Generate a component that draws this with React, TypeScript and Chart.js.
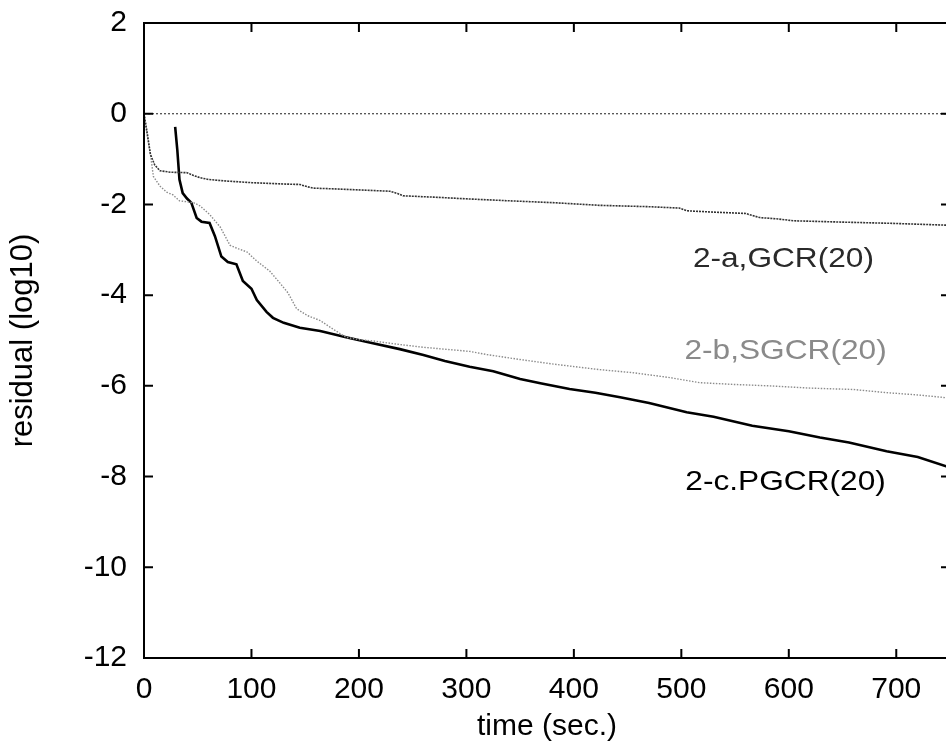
import React, { useEffect, useRef } from "react";
import { Chart, registerables } from "chart.js";

Chart.register(...registerables);

// ---- data (time in sec., residual in log10) ----
const gcrTime = [0, 3, 6, 10, 15, 25, 40, 46, 52, 60, 74, 100, 130, 145, 152, 157, 180, 210, 229, 236, 241, 270, 303, 340, 380, 424, 470, 498, 505, 530, 560, 567, 573, 590, 604, 650, 700, 750];
const gcrResidual = [0, -0.45, -0.9, -1.13, -1.26, -1.29, -1.3, -1.36, -1.41, -1.45, -1.48, -1.52, -1.55, -1.56, -1.61, -1.64, -1.66, -1.69, -1.71, -1.76, -1.81, -1.84, -1.88, -1.92, -1.96, -2.02, -2.05, -2.08, -2.14, -2.17, -2.2, -2.25, -2.29, -2.32, -2.36, -2.39, -2.42, -2.46];

const sgcrTime = [0, 3, 5.6, 8.7, 15, 21, 27, 33, 46, 52, 61, 71, 80, 88, 96, 105, 117, 126, 134, 142, 152, 164, 176, 188, 200, 213, 235, 260, 303, 319, 350, 381, 423, 455, 490, 517, 550, 582, 620, 660, 691, 720, 750];
const sgcrResidual = [0, -0.4, -0.82, -1.38, -1.6, -1.73, -1.79, -1.92, -1.96, -2.03, -2.22, -2.5, -2.9, -2.98, -3.05, -3.25, -3.47, -3.72, -3.95, -4.3, -4.45, -4.56, -4.75, -4.93, -4.98, -5.01, -5.08, -5.15, -5.24, -5.31, -5.42, -5.52, -5.64, -5.71, -5.82, -5.93, -5.97, -6.0, -6.05, -6.08, -6.15, -6.2, -6.27];

const pgcrTime = [29, 31, 33, 36, 40, 44, 49, 53.5, 61, 66, 72, 78, 86, 92, 100, 105, 114, 120, 130, 145, 164, 188, 213, 238, 260, 280, 303, 325, 350, 370, 396, 420, 443, 470, 505, 530, 566, 600, 629, 656, 691, 720, 750];
const pgcrResidual = [-0.29, -0.8, -1.45, -1.75, -1.87, -1.96, -2.3, -2.38, -2.41, -2.7, -3.15, -3.27, -3.32, -3.69, -3.86, -4.11, -4.37, -4.5, -4.61, -4.72, -4.79, -4.93, -5.06, -5.19, -5.32, -5.45, -5.58, -5.68, -5.85, -5.95, -6.07, -6.15, -6.25, -6.38, -6.58, -6.68, -6.88, -7.0, -7.14, -7.25, -7.44, -7.57, -7.8];

const zeroTime = [0, 750];
const zeroResidual = [0, 0];

const xTicks = [0, 100, 200, 300, 400, 500, 600, 700];
const yTicks = [2, 0, -2, -4, -6, -8, -10, -12];

const curveLabels = ["2-a,GCR(20)", "2-b,SGCR(20)", "2-c.PGCR(20)"];
const labelTime = [595, 597, 597];
const labelResidual = [-3.2, -5.23, -8.12];
const labelColors = ["#2a2a2a", "#8a8a8a", "#000000"];

const FONT = "'Liberation Sans', Arial, Helvetica, sans-serif";

const toPoints = (xs: number[], ys: number[]) => xs.map((x, i) => ({ x, y: ys[i] }));

const framePlugin = {
  id: "frame",
  afterDatasetsDraw(chart: any) {
    const { ctx, chartArea } = chart;
    const { left, right, top, bottom } = chartArea;
    const xs = chart.scales.x;
    const ys = chart.scales.y;
    ctx.save();
    ctx.strokeStyle = "#000";
    ctx.lineWidth = 2;
    ctx.strokeRect(left, top, right - left, bottom - top);
    const tl = 9;
    ctx.beginPath();
    xTicks.forEach((v) => {
      const px = xs.getPixelForValue(v);
      ctx.moveTo(px, bottom);
      ctx.lineTo(px, bottom - tl);
      ctx.moveTo(px, top);
      ctx.lineTo(px, top + tl);
    });
    yTicks.forEach((v) => {
      const py = ys.getPixelForValue(v);
      ctx.moveTo(left, py);
      ctx.lineTo(left + tl, py);
      ctx.moveTo(right, py);
      ctx.lineTo(right - tl, py);
    });
    ctx.stroke();

    // curve labels
    ctx.textAlign = "center";
    ctx.textBaseline = "middle";
    ctx.font = `28px ${FONT}`;
    curveLabels.forEach((txt, i) => {
      const px = xs.getPixelForValue(labelTime[i]);
      const py = ys.getPixelForValue(labelResidual[i]);
      ctx.save();
      ctx.translate(px, py);
      ctx.scale(1.13, 1);
      ctx.fillStyle = labelColors[i];
      ctx.fillText(txt, 0, 0);
      ctx.restore();
    });
    ctx.restore();
  },
};

export default function App() {
  const ref = useRef<HTMLCanvasElement | null>(null);

  useEffect(() => {
    if (!ref.current) return;
    const chart = new Chart(ref.current, {
      type: "line",
      data: {
        datasets: [
          {
            data: toPoints(zeroTime, zeroResidual),
            borderColor: "#444",
            borderWidth: 1.2,
            borderDash: [2, 2],
            pointRadius: 0,
            tension: 0,
          },
          {
            data: toPoints(gcrTime, gcrResidual),
            borderColor: "#333",
            borderWidth: 1.6,
            borderDash: [2, 1],
            pointRadius: 0,
            tension: 0,
          },
          {
            data: toPoints(sgcrTime, sgcrResidual),
            borderColor: "#8c8c8c",
            borderWidth: 1.4,
            borderDash: [1.5, 1.5],
            pointRadius: 0,
            tension: 0,
          },
          {
            data: toPoints(pgcrTime, pgcrResidual),
            borderColor: "#000",
            borderWidth: 2.6,
            pointRadius: 0,
            tension: 0,
          },
        ],
      },
      options: {
        animation: false,
        responsive: false,
        devicePixelRatio: 1,
        layout: { padding: { left: 0, top: 23, right: 10, bottom: 0 } },
        plugins: { legend: { display: false }, tooltip: { enabled: false } },
        scales: {
          x: {
            type: "linear",
            min: 0,
            max: 750,
            afterBuildTicks: (s: any) => {
              s.ticks = xTicks.map((v) => ({ value: v }));
            },
            afterFit: (s: any) => {
              s.height = 87;
              s.paddingLeft = 0;
              s.paddingRight = 0;
            },
            grid: { display: false, drawTicks: false },
            border: { display: false },
            ticks: {
              color: "#000",
              font: { family: FONT, size: 30 },
              padding: 14,
              maxRotation: 0,
              autoSkip: false,
            },
            title: {
              display: true,
              text: "time (sec.)",
              color: "#000",
              font: { family: FONT, size: 30 },
              padding: { top: 0, bottom: 0 },
            },
          },
          y: {
            type: "linear",
            min: -12,
            max: 2,
            afterBuildTicks: (s: any) => {
              s.ticks = yTicks.map((v) => ({ value: v }));
            },
            afterFit: (s: any) => {
              s.width = 144;
              s.paddingTop = 0;
              s.paddingBottom = 0;
            },
            grid: { display: false, drawTicks: false },
            border: { display: false },
            ticks: {
              color: "#000",
              font: { family: FONT, size: 30 },
              padding: 17,
              autoSkip: false,
            },
            title: {
              display: true,
              text: "residual (log10)",
              color: "#000",
              font: { family: FONT, size: 31 },
              padding: { top: 5, bottom: 0 },
            },
          },
        },
      },
      plugins: [framePlugin],
    } as any);
    return () => chart.destroy();
  }, []);

  return (
    <div
      style={{
        position: "fixed",
        left: 0,
        top: 0,
        width: 946,
        height: 745,
        overflow: "hidden",
        background: "#fff",
      }}
    >
      <canvas ref={ref} width={960} height={745} style={{ position: "absolute", left: 0, top: 0 }} />
    </div>
  );
}
